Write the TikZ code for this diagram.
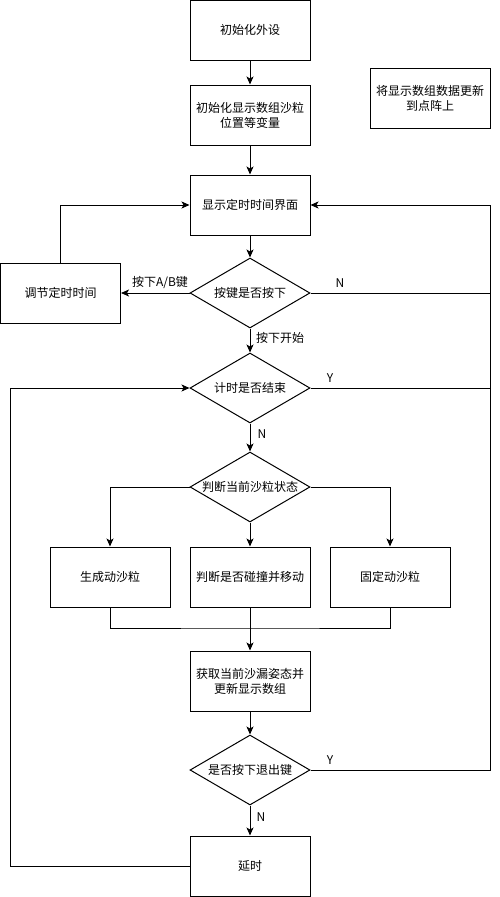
\documentclass[tikz,border=0pt]{standalone}
\usepackage{fontspec}
\setmainfont{Noto Sans CJK SC}
\usetikzlibrary{arrows.meta,shapes.geometric}
\tikzset{
  box/.style={draw=black, line width=1pt, rectangle, minimum width=120pt, minimum height=60pt, inner sep=0pt, align=center, font=\fontsize{12}{15}\selectfont},
  dia/.style={draw=black, line width=1pt, diamond, minimum width=120pt, minimum height=70pt, inner sep=0pt, shape aspect=1.7, font=\fontsize{12}{15}\selectfont},
  arr/.style={line width=1pt, -{Stealth[length=8pt,width=7pt,inset=2pt]}},
  ln/.style={line width=1pt},
  lbl/.style={font=\fontsize{12}{15}\selectfont, inner sep=0pt}
}
\begin{document}
\begin{tikzpicture}[x=1pt,y=-1pt]
\useasboundingbox (0,0) rectangle (500,897);
\node[box] (b1) at (250,30) {初始化外设};
\node[box] (b2) at (250,115) {初始化显示数组沙粒\\位置等变量};
\node[box] (ex) at (430,98) {将显示数组数据更新\\到点阵上};
\node[box] (b3) at (250,205) {显示定时时间界面};
\node[dia] (d1) at (250,293) {按键是否按下};
\node[box] (adj) at (60.5,293) {调节定时时间};
\node[dia] (d2) at (250,388) {计时是否结束};
\node[dia] (d3) at (250,487) {判断当前沙粒状态};
\node[box] (sA) at (110,577) {生成动沙粒};
\node[box] (sB) at (250,577) {判断是否碰撞并移动};
\node[box] (sC) at (390,577) {固定动沙粒};
\node[box] (bD) at (250,681) {获取当前沙漏姿态并\\更新显示数组};
\node[dia] (d4) at (250,770) {是否按下退出键};
\node[box] (dl) at (250,866) {延时};

\coordinate (rtop) at (490,205);
\coordinate (lft) at (10.7,388);
\coordinate (mj) at (250,628);

\draw[arr] (b1) -- (b2);
\draw[arr] (b2) -- (b3);
\draw[arr] (b3) -- (d1);
\draw[arr] (d1.west) -- (adj.east);
\draw[arr] (adj.north) |- (b3.west);
\draw[arr] (d4.east) -| (rtop) -- (b3.east);
\draw[ln] (d1.east) -- (d1.east -| rtop);
\draw[ln] (d2.east) -- (d2.east -| rtop);
\draw[arr] (d1.south) -- (d2.north);
\draw[arr] (d2.south) -- (d3.north);
\draw[arr] (d3.west) -| (sA.north);
\draw[arr] (d3.east) -| (sC.north);
\draw[arr] (d3.south) -- (sB.north);
\draw[ln] (sA.south) |- (mj) -| (sC.south);
\draw[arr] (sB.south) -- (bD.north);
\draw[arr] (bD.south) -- (d4.north);
\draw[arr] (d4.south) -- (dl.north);
\draw[arr] (dl.west) -| (lft) -- (d2.west);

\node[lbl] (l1) at (160,283) {按下A/B键};
\node[lbl] (l2) at (340,283) {N};
\node[lbl, anchor=west] (l3) at (256,338) {按下开始};
\node[lbl] (l4) at (330,378) {Y};
\node[lbl] (l5) at (262,434) {N};
\node[lbl] (l6) at (330,760) {Y};
\node[lbl] (l7) at (261,817) {N};
\end{tikzpicture}
\end{document}
